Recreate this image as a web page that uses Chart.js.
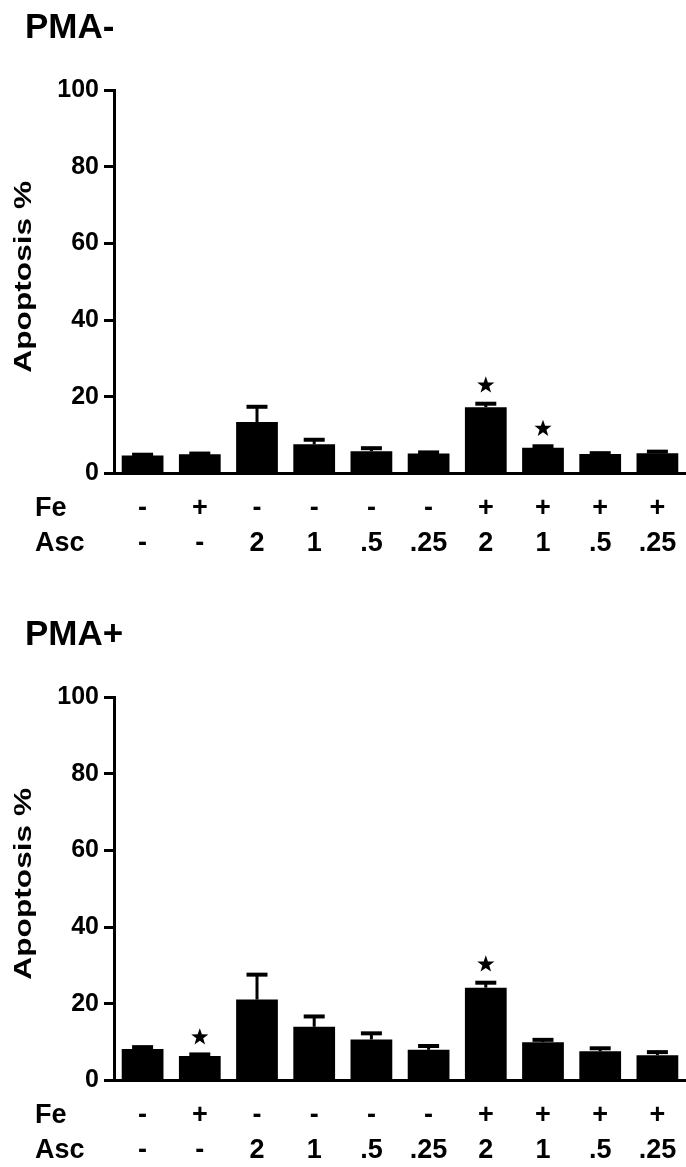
<!DOCTYPE html>
<html>
<head>
<meta charset="utf-8">
<script src="https://cdn.jsdelivr.net/npm/chart.js@4.4.1/dist/chart.umd.min.js"></script>
<style>
  body { margin: 0; background: #fff; width: 686px; height: 1167px; position: relative; overflow: hidden; }
  canvas { position: absolute; left: 0; }
  #top { top: 0; }
  #bottom { top: 607px; }
</style>
</head>
<body>
<canvas id="top" width="686" height="590"></canvas>
<canvas id="bottom" width="686" height="560"></canvas>
<script>
// treatment rows under the bars
const fe  = ['-', '+', '-', '-', '-', '-', '+', '+', '+', '+'];
const asc = ['-', '-', '2', '1', '.5', '.25', '2', '1', '.5', '.25'];
const yTicks = [0, 20, 40, 60, 80, 100];

// PMA- panel
const pmaMinus      = [4.7, 5.0, 13.4, 7.6, 5.8, 5.2, 17.3, 6.7, 5.1, 5.3];
const pmaMinusErr   = [4.9, 5.2, 17.4, 8.8, 6.6, 5.5, 18.2, 7.1, 5.3, 5.7];
const pmaMinusStars = [null, null, null, null, null, null, 23.0, 11.7, null, null];

// PMA+ panel
const pmaPlus      = [8.2, 6.4, 21.1, 14.0, 10.7, 8.0, 24.2, 10.0, 7.6, 6.6];
const pmaPlusErr   = [8.7, 6.8, 27.6, 16.7, 12.3, 9.0, 25.5, 10.6, 8.4, 7.4];
const pmaPlusStars = [null, 11.3, null, null, null, null, 30.3, null, null, null];

const FONT = "'Liberation Sans', Arial, sans-serif";

function drawStar(ctx, cx, cy, r) {
  ctx.beginPath();
  for (let k = 0; k < 10; k++) {
    let rad = k % 2 === 0 ? r : r * 0.4;
    let a = -Math.PI / 2 + k * Math.PI / 5;
    ctx.lineTo(cx + rad * Math.cos(a), cy + rad * Math.sin(a));
  }
  ctx.closePath();
  ctx.fill();
}

function makeChart(id, title, values, errs, stars) {
  const extras = {
    id: 'extras',
    afterDatasetsDraw(chart) {
      const ctx = chart.ctx;
      const xs = chart.scales.x, ys = chart.scales.y;
      ctx.save();
      ctx.strokeStyle = '#000';
      ctx.fillStyle = '#000';
      // error bars (upper only)
      errs.forEach((e, i) => {
        let x = xs.getPixelForValue(i);
        let y0 = ys.getPixelForValue(values[i]);
        let y1 = ys.getPixelForValue(e);
        ctx.lineWidth = 3;
        ctx.beginPath(); ctx.moveTo(x, y0); ctx.lineTo(x, y1); ctx.stroke();
        ctx.lineWidth = 4;
        ctx.beginPath(); ctx.moveTo(x - 10.5, y1); ctx.lineTo(x + 10.5, y1); ctx.stroke();
      });
      // significance stars
      stars.forEach((s, i) => {
        if (s === null) return;
        drawStar(ctx, xs.getPixelForValue(i), ys.getPixelForValue(s), 9);
      });
      ctx.restore();
    },
    afterDraw(chart) {
      const ctx = chart.ctx;
      const xs = chart.scales.x, ys = chart.scales.y;
      const base = ys.bottom;
      ctx.save();
      ctx.fillStyle = '#000';
      // panel title
      ctx.font = 'bold 35px ' + FONT;
      ctx.textAlign = 'left';
      ctx.textBaseline = 'alphabetic';
      ctx.fillText(title, 25, 38);
      // y axis title
      ctx.save();
      ctx.translate(24, (ys.top + ys.bottom) / 2 - 5);
      ctx.rotate(-Math.PI / 2);
      ctx.scale(1.32, 1);
      ctx.font = 'bold 24px ' + FONT;
      ctx.textAlign = 'center';
      ctx.textBaseline = 'middle';
      ctx.fillText('Apoptosis %', 0, 0);
      ctx.restore();
      // Fe / Asc rows
      ctx.font = 'bold 27px ' + FONT;
      ctx.textBaseline = 'alphabetic';
      ctx.textAlign = 'left';
      ctx.fillText('Fe', 35, base + 42);
      ctx.fillText('Asc', 35, base + 77);
      ctx.textAlign = 'center';
      fe.forEach((t, i) => ctx.fillText(t, xs.getPixelForValue(i), base + 42));
      asc.forEach((t, i) => ctx.fillText(t, xs.getPixelForValue(i), base + 77));
      ctx.restore();
    }
  };

  return new Chart(document.getElementById(id), {
    type: 'bar',
    data: {
      labels: asc.map((a, i) => fe[i] + ' ' + a),
      datasets: [{
        data: values,
        backgroundColor: '#000',
        borderWidth: 0,
        barPercentage: 0.73,
        categoryPercentage: 1.0
      }]
    },
    options: {
      responsive: false,
      animation: false,
      layout: { padding: { top: 90, left: 0, right: 0, bottom: 0 } },
      plugins: { legend: { display: false }, tooltip: { enabled: false }, title: { display: false } },
      scales: {
        x: {
          grid: { display: false },
          ticks: { display: false },
          border: { color: '#000', width: 3 },
          afterFit: s => { s.height = s.chart.height - 473.5; }
        },
        y: {
          min: 0, max: 100,
          afterBuildTicks: s => { s.ticks = yTicks.map(v => ({ value: v })); },
          ticks: { color: '#000', padding: 5, font: { family: FONT, size: 25, weight: 'bold' } },
          grid: { drawOnChartArea: false, drawTicks: true, tickLength: 10, tickWidth: 3, tickColor: '#000' },
          border: { color: '#000', width: 3 },
          afterFit: s => { s.width = 114; }
        }
      }
    },
    plugins: [extras]
  });
}

makeChart('top', 'PMA-', pmaMinus, pmaMinusErr, pmaMinusStars);
makeChart('bottom', 'PMA+', pmaPlus, pmaPlusErr, pmaPlusStars);
</script>
</body>
</html>
